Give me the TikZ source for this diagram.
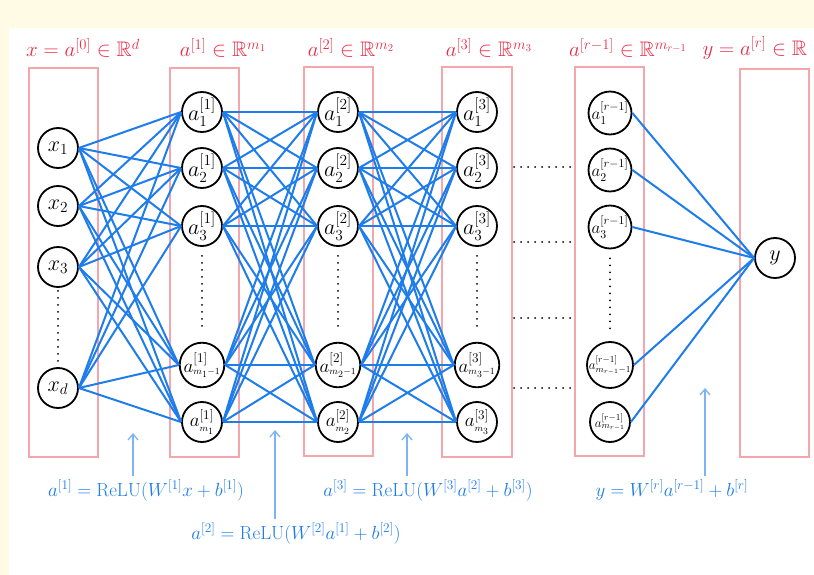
\documentclass[tikz,border=0pt]{standalone}
\usepackage{fix-cm}
\usepackage{amsmath,amssymb}
\usetikzlibrary{arrows.meta}

\definecolor{paper}{RGB}{255,251,228}
\definecolor{boxpink}{RGB}{245,165,172}
\definecolor{labred}{RGB}{235,45,72}
\definecolor{wblue}{RGB}{30,125,235}
\definecolor{hintblue}{RGB}{125,180,245}

\begin{document}
\begin{tikzpicture}[
        x=1pt, y=-1pt,
        neuron/.style={circle, draw, line width=1.8pt, fill=white, minimum size=40pt, inner sep=0pt, font=\fontsize{22}{24}\selectfont},
        mid/.style={font=\fontsize{19}{21}\selectfont},
        last/.style={font=\fontsize{17}{19}\selectfont},
        tiny/.style={font=\fontsize{13}{15}\selectfont},
        layer/.style={draw=boxpink, line width=1.6pt},
        wire/.style={wblue, line width=2pt},
        dots/.style={line width=2pt, line cap=round, dash pattern=on 0pt off 7pt},
        hint/.style={hintblue, line width=1.3pt, -{Straight Barb[length=6pt, width=10pt]}},
        head/.style={labred, font=\fontsize{21}{23}\selectfont},
        formula/.style={wblue, font=\fontsize{19}{21}\selectfont}
        ]
        \fill[paper] (0,0) rectangle (814,575);
        \fill[white] (9,28) rectangle (814,575);
        \useasboundingbox (0,0) rectangle (814,575);

        % layer boxes
        \draw[layer] (29,68) rectangle (98,457);
        \draw[layer] (170,68) rectangle (239,457);
        \draw[layer] (304,67) rectangle (373,456);
        \draw[layer] (442,67) rectangle (512,457);
        \draw[layer] (575,67) rectangle (644,456);
        \draw[layer] (740,69) rectangle (809,457);

        % input layer
        \node[neuron] (x1) at (58,148) {$x_1$};
        \node[neuron] (x2) at (58,206) {$x_2$};
        \node[neuron] (x3) at (58,267) {$x_3$};
        \node[neuron] (xd) at (58,388) {$x_d$};

        % hidden layers 1 to 3
        \foreach \lay/\xx in {1/202, 2/338, 3/477} {
            \node[neuron] (l\lay n1) at (\xx,112) {$a^{[\lay]}_1$};
            \node[neuron] (l\lay n2) at (\xx,168) {$a^{[\lay]}_2$};
            \node[neuron] (l\lay n3) at (\xx,226) {$a^{[\lay]}_3$};
            \node[neuron, mid] (l\lay n4) at (\xx,365) {$a^{[\lay]}_{\scriptscriptstyle m_\lay-1}$};
            \node[neuron, mid] (l\lay n5) at (\xx,422) {$a^{[\lay]}_{\scriptscriptstyle m_\lay}$};
            \draw[dots, shorten <=9pt, shorten >=10pt] (l\lay n3) -- (l\lay n4);
        }

        % last hidden layer and output
        \node[neuron, last] (l4n1) at (610,113) {$a^{[r-1]}_1$};
        \node[neuron, last] (l4n2) at (610,170) {$a^{[r-1]}_2$};
        \node[neuron, last] (l4n3) at (610,227) {$a^{[r-1]}_3$};
        \node[neuron, tiny] (l4n4) at (610,365) {$a^{[r-1]}_{m_{r-1}-1}$};
        \node[neuron, tiny] (l4n5) at (610,422) {$a^{[r-1]}_{m_{r-1}}$};
        \node[neuron] (y) at (775,258) {$y$};

        \draw[dots, shorten <=3pt, shorten >=3pt] (x3) -- (xd);
        \draw[dots, shorten <=9pt, shorten >=10pt] (l4n3) -- (l4n4);

        % skipped layers
        \foreach \yy [count=\k] in {167,242,318,388} {
            \coordinate (dl\k) at (514,\yy);
            \coordinate (dr\k) at (574,\yy);
            \draw[dots] (dl\k) -- (dr\k);
        }

        % weights
        \foreach \a in {x1,x2,x3,xd}
            \foreach \b in {1,...,5}
                \draw[wire] (\a.east) -- (l1n\b.west);
        \foreach \lay/\nxt in {1/2, 2/3}
            \foreach \a in {1,...,5}
                \foreach \b in {1,...,5}
                    \draw[wire] (l\lay n\a.east) -- (l\nxt n\b.west);
        \foreach \a in {1,...,5}
            \draw[wire] (l4n\a.east) -- (y.west);

        % layer labels
        \node[head] (h0) at (83,48) {$x = a^{[0]} \in \mathbb{R}^d$};
        \node[head] (h1) at (223,48) {$a^{[1]} \in \mathbb{R}^{m_1}$};
        \node[head] (h2) at (351,48) {$a^{[2]} \in \mathbb{R}^{m_2}$};
        \node[head] (h3) at (489,48) {$a^{[3]} \in \mathbb{R}^{m_3}$};
        \node[head] (h4) at (628,48) {$a^{[r-1]} \in \mathbb{R}^{m_{r-1}}$};
        \node[head, anchor=west] (h5) at (699,48) {$y = a^{[r]} \in \mathbb{R}$};

        % forward equations
        \node[formula] (f1) at (146,490) {$a^{[1]} = \mathrm{ReLU}(W^{[1]} x + b^{[1]})$};
        \node[formula] (f2) at (296,533) {$a^{[2]} = \mathrm{ReLU}(W^{[2]} a^{[1]} + b^{[2]})$};
        \node[formula] (f3) at (428,490) {$a^{[3]} = \mathrm{ReLU}(W^{[3]} a^{[2]} + b^{[3]})$};
        \node[formula] (f4) at (672,490) {$y = W^{[r]} a^{[r-1]} + b^{[r]}$};

        \coordinate (t1) at (133,433);
        \coordinate (t2) at (275,430);
        \coordinate (t3) at (407,433);
        \coordinate (t4) at (705,388);
        \draw[hint] (f1.north -| t1) -- (t1);
        \draw[hint] (f2.north -| t2) -- (t2);
        \draw[hint] (f3.north -| t3) -- (t3);
        \draw[hint] (f4.north -| t4) -- (t4);
    \end{tikzpicture}
\end{document}
